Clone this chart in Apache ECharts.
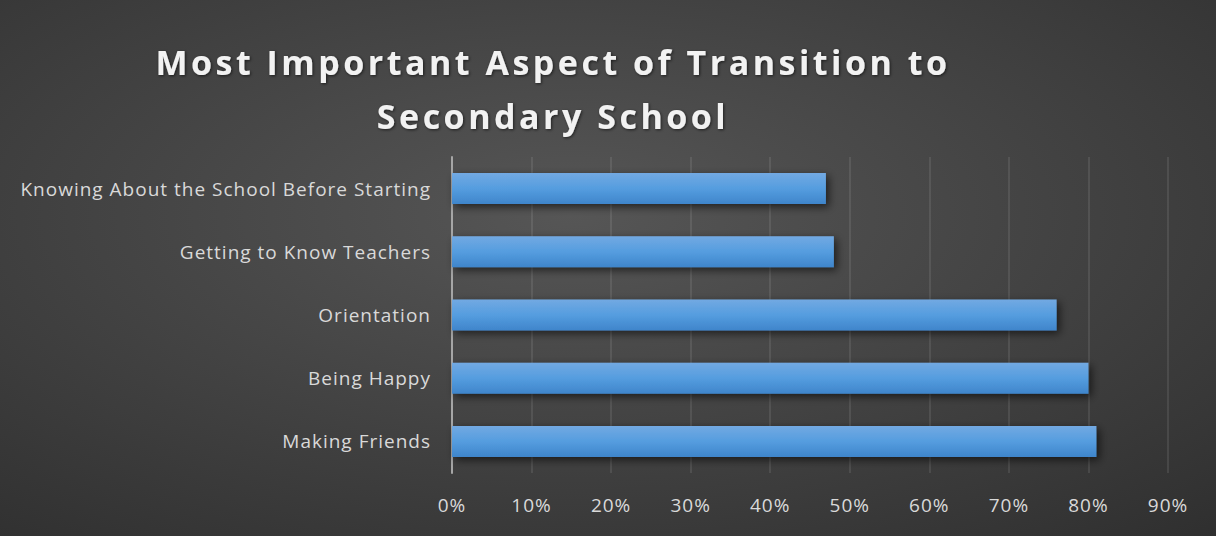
<!DOCTYPE html>
<html><head><meta charset="utf-8">
<script src="https://cdn.jsdelivr.net/npm/echarts@6/dist/echarts.min.js"></script>
<style>
html,body{margin:0;padding:0;background:#333;}
#c{width:1216px;height:536px;}
#c text{letter-spacing:1px;}
#c text[style*="bold"], #c text[font-weight="bold"]{letter-spacing:3.5px;}
</style>
</head><body><div id="c"></div>
<script>
const titleText = 'Most Important Aspect of Transition to\nSecondary School';
const categories = ['Knowing About the School Before Starting', 'Getting to Know Teachers', 'Orientation', 'Being Happy', 'Making Friends'];
const values = [0.47, 0.48, 0.76, 0.80, 0.81];
const xTicks = { min: 0, max: 0.9, interval: 0.1 };

const chart = echarts.init(document.getElementById('c'), null, { renderer: 'svg' });
chart.setOption({
  animation: false,
  backgroundColor: {
    type: 'radial', x: 0.47, y: 0.4, r: 0.97,
    colorStops: [{ offset: 0, color: '#565656' }, { offset: 1, color: '#272727' }]
  },
  title: {
    text: titleText, left: 548, top: 30, textAlign: 'center',
    textStyle: { color: '#f2f2f2', fontFamily: 'Open Sans', fontWeight: 'bold', fontSize: 34, lineHeight: 54,
      textShadowColor: 'rgba(0,0,0,0.6)', textShadowBlur: 3, textShadowOffsetX: 1, textShadowOffsetY: 1 }
  },
  grid: { left: 452, right: 48, top: 157, bottom: 63, containLabel: false },
  xAxis: {
    type: 'value', min: xTicks.min, max: xTicks.max, interval: xTicks.interval,
    axisLine: { show: false }, axisTick: { show: false },
    splitLine: { show: true, lineStyle: { color: 'rgba(255,255,255,0.09)', width: 2 } },
    axisLabel: { color: '#d9d9d9', fontFamily: 'Open Sans', fontSize: 19, margin: 22,
      formatter: v => Math.round(v * 100) + '%' }
  },
  yAxis: {
    type: 'category', data: categories, inverse: true,
    axisLine: { show: true, lineStyle: { color: '#a6a6a6', width: 2 } },
    axisTick: { show: false },
    axisLabel: { color: '#d9d9d9', fontFamily: 'Open Sans', fontSize: 19, margin: 21 }
  },
  series: [{
    type: 'bar', data: values, barWidth: 31, silent: true,
    itemStyle: {
      color: { type: 'linear', x: 0, y: 0, x2: 0, y2: 1,
        colorStops: [{ offset: 0, color: '#72a9e2' }, { offset: 0.5, color: '#559ddf' }, { offset: 1, color: '#3f85cb' }] },
      shadowColor: 'rgba(0,0,0,0.6)', shadowBlur: 8, shadowOffsetX: 3, shadowOffsetY: 3
    }
  }]
});
</script></body></html>
